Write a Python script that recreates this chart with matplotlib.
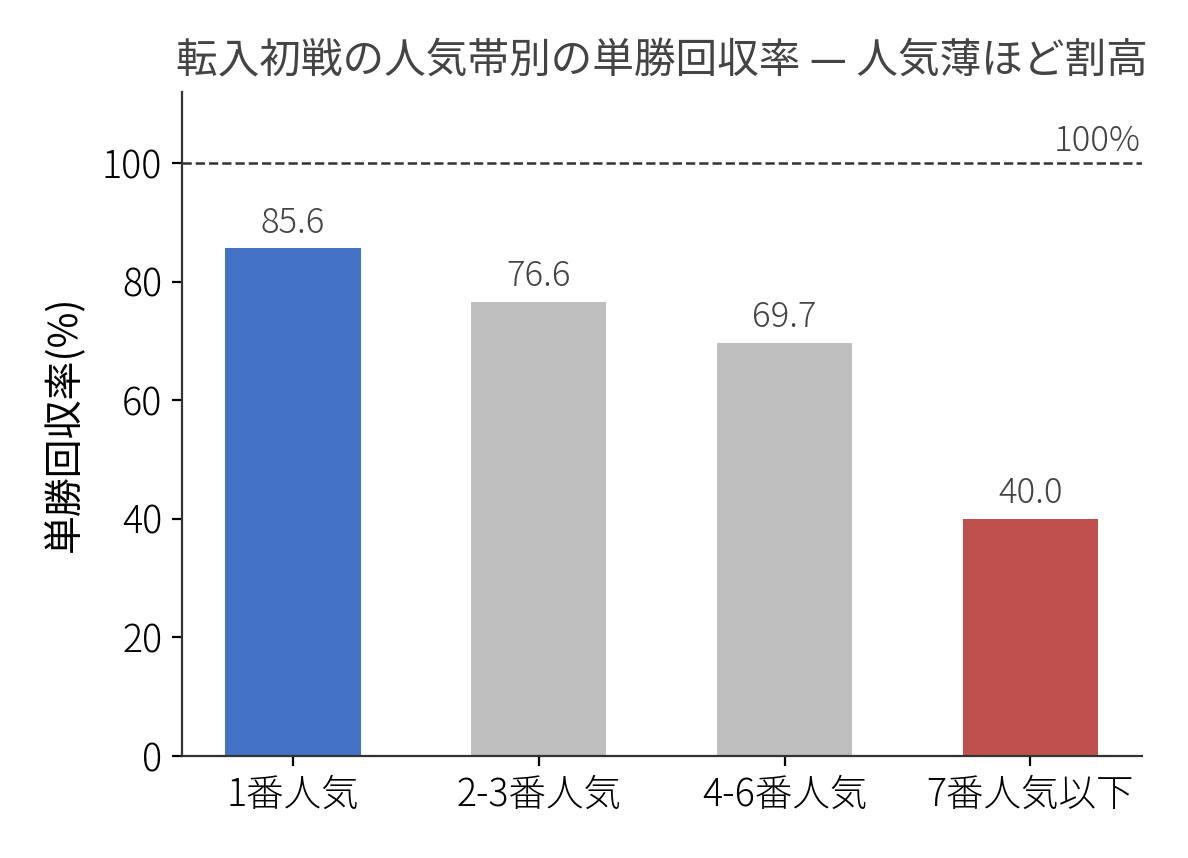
import matplotlib
matplotlib.use("Agg")
import matplotlib.pyplot as plt

plt.rcParams["font.family"] = ["Noto Sans CJK JP", "DejaVu Sans"]
plt.rcParams["font.weight"] = "light"

categories = ["1番人気", "2-3番人気", "4-6番人気", "7番人気以下"]
recovery = [85.6, 76.6, 69.7, 40.0]
bar_colors = ["#4472C4", "#BFBFBF", "#BFBFBF", "#C0504D"]
BREAK_EVEN = 100

fig, ax = plt.subplots(figsize=(5.94, 4.29), dpi=200)
fig.subplots_adjust(left=0.153, right=0.961, top=0.893, bottom=0.119)

x = range(len(categories))
bars = ax.bar(x, recovery, width=0.55, color=bar_colors)

for b, v in zip(bars, recovery):
    ax.text(b.get_x() + b.get_width() / 2, v + 1.3, f"{v:.1f}",
            ha="center", va="bottom", fontsize=12.5, color="#444444")

ax.axhline(BREAK_EVEN, color="#333333", linewidth=0.9, linestyle="--")
ax.text(3.45, BREAK_EVEN + 0.6, "100%", ha="right", va="bottom",
        fontsize=12.5, color="#444444")

ax.set_ylim(0, 112)
ax.set_xticks(list(x))
ax.set_xticklabels(categories, fontsize=13.5)
ax.tick_params(axis="y", labelsize=13.5)
ax.set_ylabel("単勝回収率(%)", fontsize=14, labelpad=6)
ax.set_title("転入初戦の人気帯別の単勝回収率 — 人気薄ほど割高",
             fontsize=15, color="#444444", pad=7)

for s in ("top", "right"):
    ax.spines[s].set_visible(False)
for s in ("left", "bottom"):
    ax.spines[s].set_color("#333333")

fig.savefig("out.png", dpi=200, facecolor="white")
